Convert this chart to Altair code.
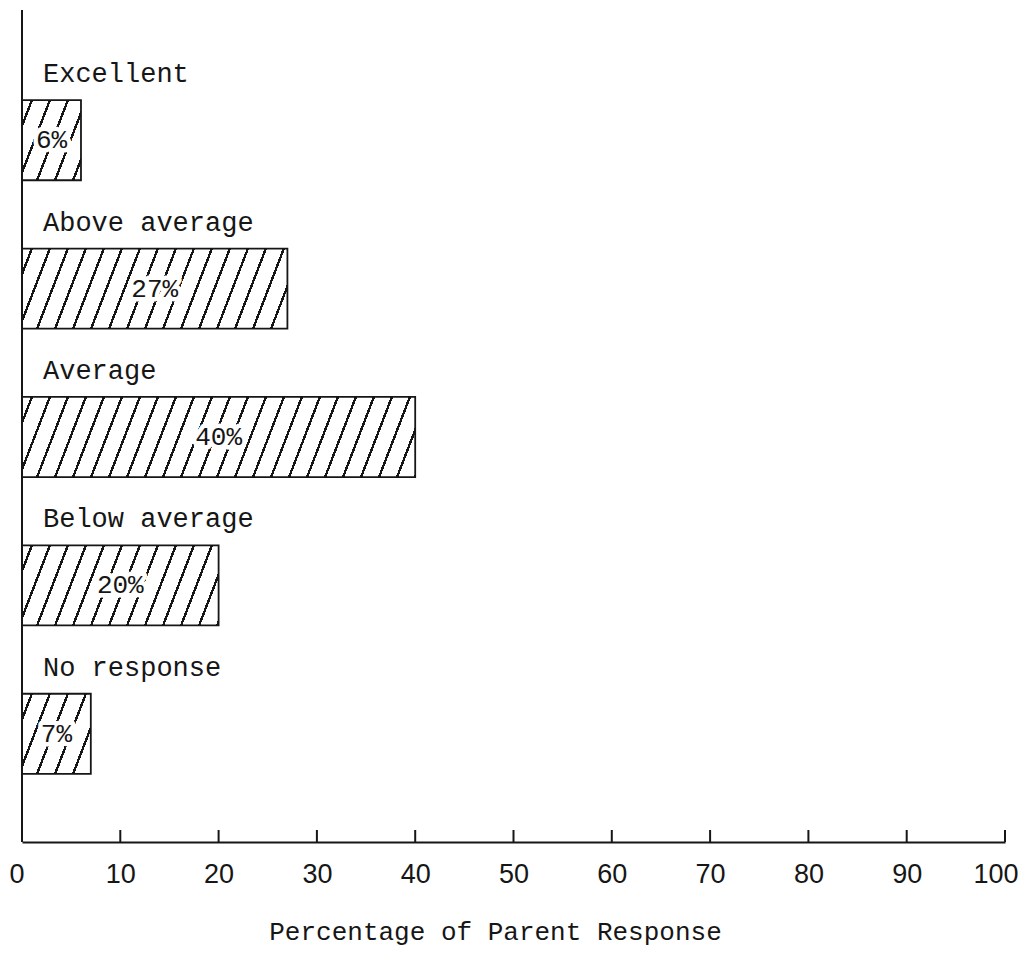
import altair as alt
import pandas as pd

categories = ["Excellent", "Above average", "Average", "Below average", "No response"]
values = [6, 27, 40, 20, 7]
value_labels = ["6%", "27%", "40%", "20%", "7%"]
tick_values = [10, 20, 30, 40, 50, 60, 70, 80, 90, 100]
axis_label_values = [0, 10, 20, 30, 40, 50, 60, 70, 80, 90, 100]
x_title = "Percentage of Parent Response"

df = pd.DataFrame({"category": categories, "value": values, "label": value_labels})
ticks_df = pd.DataFrame({"tick": tick_values})

W, H = 983, 832
INK = "#161616"
MONO = "Liberation Mono"
Y_RANGE = [56, 798]
P_INNER, P_OUTER = 0.46, 0.23
BAND = (Y_RANGE[1] - Y_RANGE[0]) / len(categories) * (1 - P_INNER)

x_scale = alt.Scale(domain=[0, 100], nice=False, zero=True)
y_scale = alt.Scale(domain=categories, range=Y_RANGE, paddingInner=P_INNER, paddingOuter=P_OUTER)


def hatch_fill(v, slope=2.6, period=18.0, dark=0.14):
    """Diagonal '/' hatching as a hard-stop linear gradient (bbox units)."""
    w = v * W / 100.0
    h = BAND
    a, b = slope * w / h, 1.0
    tmax = (a + b) / (a * a + b * b)
    T = period * a / (w * (a * a + b * b)) / tmax
    d = T * dark
    stops = [{"offset": 0, "color": "white"}]
    c = T * 0.55
    while c - d / 2 < 1:
        s0 = max(0.0, c - d / 2)
        s1 = min(1.0, c + d / 2)
        stops += [
            {"offset": round(s0, 5), "color": "white"},
            {"offset": round(s0, 5), "color": INK},
            {"offset": round(s1, 5), "color": INK},
            {"offset": round(s1, 5), "color": "white"},
        ]
        c += T
    stops.append({"offset": 1, "color": "white"})
    return {"gradient": "linear", "x1": 0, "y1": 0,
            "x2": round(a * tmax, 5), "y2": round(b * tmax, 5), "stops": stops}


x_axis = alt.Axis(
    values=axis_label_values,
    grid=False,
    ticks=False,
    tickSize=0,
    domain=True,
    domainColor=INK,
    domainWidth=2,
    labelFont="Liberation Sans",
    labelFontSize=27,
    labelColor=INK,
    labelPadding=19,
    labelFlush=True,
    labelFlushOffset=13,
    labelOverlap=False,
    title=x_title,
    titleFont=MONO,
    titleFontSize=26,
    titleFontWeight="normal",
    titleColor=INK,
    titleX=473,
    titleY=97,
    titleAlign="center",
    titleBaseline="alphabetic",
)

y_enc = alt.Y("category:N", scale=y_scale, sort=categories, axis=None)

bar_layers = []
for cat, v in zip(categories, values):
    bar_layers.append(
        alt.Chart(df)
        .transform_filter(alt.datum.category == cat)
        .mark_bar(fill=hatch_fill(v), stroke=INK, strokeWidth=1.8)
        .encode(x=alt.X("value:Q", scale=x_scale, axis=x_axis), y=y_enc)
    )

pct_base = alt.Chart(df).transform_calculate(half="datum.value / 2")
pct_halo = pct_base.mark_text(
    align="center", baseline="middle", font=MONO, fontSize=26,
    color="white", stroke="white", strokeWidth=9, strokeJoin="round",
).encode(x=alt.X("half:Q", scale=x_scale, axis=x_axis), y=y_enc, text="label:N")
pct_text = pct_base.mark_text(
    align="center", baseline="middle", font=MONO, fontSize=26, color=INK,
).encode(x=alt.X("half:Q", scale=x_scale, axis=x_axis), y=y_enc, text="label:N")

cat_labels = alt.Chart(df).mark_text(
    align="left", baseline="alphabetic", font=MONO, fontSize=27, color=INK, dy=-58,
).encode(x=alt.value(21), y=y_enc, text="category:N")

y_line = alt.Chart(df).mark_rule(color=INK, strokeWidth=2).encode(
    x=alt.value(0), y=alt.value(0), y2=alt.value(H)
)

tick_marks = alt.Chart(ticks_df).mark_rule(color=INK, strokeWidth=2).encode(
    x=alt.X("tick:Q", scale=x_scale, axis=x_axis),
    y=alt.value(H),
    y2=alt.value(H - 12),
)

chart = alt.layer(*bar_layers, pct_halo, pct_text, cat_labels, y_line, tick_marks).properties(
    width=W,
    height=H,
    autosize=alt.AutoSizeParams(type="none"),
    padding={"left": 14, "top": 2, "right": 17, "bottom": 108},
    background="white",
).configure_view(stroke=None)

chart.save("out.html", embed_options={"renderer": "svg", "actions": False})
